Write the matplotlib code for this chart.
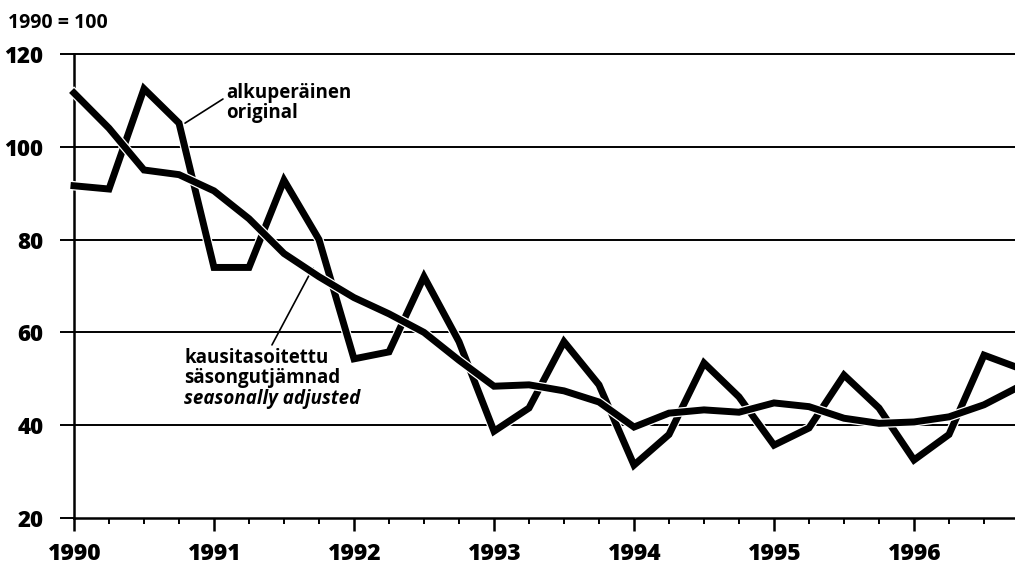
import matplotlib
matplotlib.use("Agg")
import matplotlib.pyplot as plt
import matplotlib.patheffects as pe
from matplotlib.ticker import MultipleLocator
import numpy as np

plt.rcParams['font.family'] = ['Open Sans', 'DejaVu Sans']
plt.rcParams['font.stretch'] = 'condensed'
plt.rcParams['font.weight'] = 'bold'

# quarterly periods 1990Q1 .. 1996Q4
years = [1990, 1991, 1992, 1993, 1994, 1995, 1996]
quarters_per_year = 4
original = [91.6, 90.9, 112.5, 105.1,
            74.0, 74.0, 92.8, 80.0,
            54.3, 55.8, 72.0, 58.0,
            38.7, 43.7, 58.0, 48.7,
            31.4, 38.0, 53.4, 46.1,
            35.7, 39.4, 50.8, 43.7,
            32.5, 38.0, 55.1, 52.3]
seasonally_adjusted = [111.6, 104.0, 95.0, 94.0,
                       90.5, 84.5, 77.0, 72.0,
                       67.5, 64.0, 60.0, 54.0,
                       48.4, 48.7, 47.4, 45.0,
                       39.6, 42.6, 43.3, 42.8,
                       44.8, 44.0, 41.5, 40.4,
                       40.7, 41.8, 44.4, 48.3]
y_ticks = [20, 40, 60, 80, 100, 120]
x_tick_labels = [str(y) for y in years]

x = np.array([y + q / quarters_per_year for y in years for q in range(quarters_per_year)])

fig = plt.figure(figsize=(10.15, 5.67), dpi=100)
W, H = 1015, 567
left_px, right_px, top_px, bot_px = 74, 1019, 54, 518
ax = fig.add_axes([left_px / W, 1 - bot_px / H, (right_px - left_px) / W, (bot_px - top_px) / H])

ax.set_xlim(1990, 1996.75)
ax.set_ylim(20, 120)

for v in y_ticks[1:]:
    ax.axhline(v, color='black', lw=1.4, zorder=1, clip_on=False)

effects = [pe.Stroke(linewidth=6.8, foreground='white'), pe.Normal()]
ax.plot(x, original, color='black', lw=5, solid_joinstyle='miter', zorder=3,
        path_effects=effects, clip_on=False)
ax.plot(x, seasonally_adjusted, color='black', lw=5, solid_joinstyle='miter', zorder=4,
        path_effects=effects, clip_on=False)

for s in ['top', 'right']:
    ax.spines[s].set_visible(False)
ax.spines['left'].set_linewidth(1.8)
ax.spines['bottom'].set_linewidth(1.8)

ax.set_yticks(y_ticks)
ax.set_yticklabels([str(v) for v in y_ticks])
ax.set_xticks(years)
ax.set_xticklabels(x_tick_labels)
ax.xaxis.set_minor_locator(MultipleLocator(0.25))
ax.tick_params(axis='y', which='major', direction='out', length=10, width=1.4,
               pad=12, labelsize=16)
ax.tick_params(axis='x', which='major', direction='out', length=9.5, width=1.8,
               pad=7.5, labelsize=16.5)
ax.tick_params(axis='x', which='minor', direction='out', length=4.5, width=1.4)
for lbl in ax.get_xticklabels() + ax.get_yticklabels():
    lbl.set_fontweight('heavy')

fig.text(8 / W, 1 - 28 / H, "1990 = 100", ha='left', va='baseline', fontsize=14)

lab_kw = dict(fontsize=13.5, ha='left', va='baseline')
# "original" label and leader
ax.annotate("", xy=(1990.793, 105.1), xytext=(1991.064, 110.3),
            arrowprops=dict(arrowstyle='-', lw=1.2, color='black', shrinkA=0, shrinkB=0))
ax.text(1991.086, 110.5, "alkuperäinen", **lab_kw)
ax.text(1991.086, 106.2, "original", **lab_kw)

# "seasonally adjusted" label and leader
ax.annotate("", xy=(1991.707, 73.9), xytext=(1991.414, 57.3),
            arrowprops=dict(arrowstyle='-', lw=1.2, color='black', shrinkA=0, shrinkB=0))
ax.text(1990.786, 53.4, "kausitasoitettu", **lab_kw)
ax.text(1990.786, 49.1, "säsongutjämnad", **lab_kw)
ax.text(1990.786, 44.6, "seasonally adjusted", fontstyle='italic', **lab_kw)

fig.savefig("out.png", dpi=100)
